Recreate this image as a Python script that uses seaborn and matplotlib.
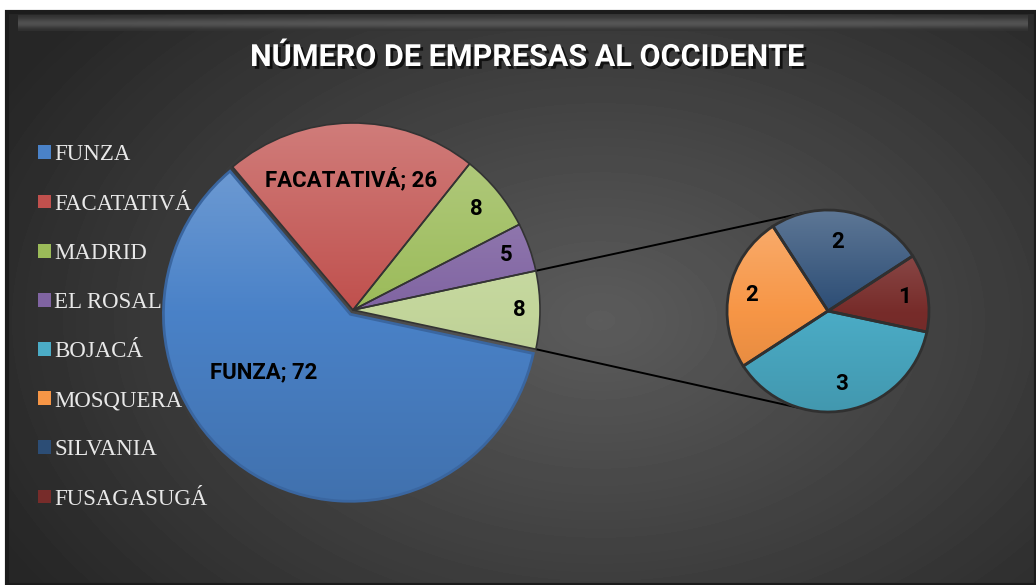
import numpy as np
import matplotlib.pyplot as plt
import matplotlib.patheffects as pe
import seaborn as sns
from matplotlib.colors import LinearSegmentedColormap, to_rgb
from matplotlib.patches import Rectangle

sns.set_style("white")
plt.rcParams["font.family"] = ["Roboto", "DejaVu Sans"]

title = "NÚMERO DE EMPRESAS AL OCCIDENTE"

# main pie
main_labels = ["FUNZA", "FACATATIVÁ", "MADRID", "EL ROSAL"]
main_values = [72, 26, 8, 5]
main_colors = ["#4a82c8", "#c0504d", "#9bbb59", "#8064a2"]

# second pie (the grouped "other" slice of the main pie)
sub_labels = ["BOJACÁ", "MOSQUERA", "SILVANIA", "FUSAGASUGÁ"]
sub_values = [3, 2, 2, 1]
sub_colors = ["#4bacc6", "#f79646", "#2c4d75", "#772c2a"]
other_color = "#c3d69b"

# layout (pixel based, y up)
W, H = 1036, 585
main_c, main_r = (353, 275), 187
sub_c, sub_r = (828, 274), 101


def shade(ax, wedge, color, c, r):
    # vertical gradient inside a wedge, lighter at the top
    base = np.array(to_rgb(color))
    light = base + (1 - base) * 0.28
    dark = base * 0.86
    cmap = LinearSegmentedColormap.from_list("g", [dark, base, light])
    grad = np.linspace(0, 1, 256).reshape(-1, 1)
    im = ax.imshow(grad, cmap=cmap, origin="lower", aspect="auto",
                   extent=[c[0] - r - 20, c[0] + r + 20, c[1] - r - 20, c[1] + r + 20],
                   zorder=1.5, interpolation="bicubic")
    im.set_clip_path(wedge)


fig = plt.figure(figsize=(W / 100, H / 100), dpi=100, facecolor="white")
ax = fig.add_axes([0, 0, 1, 1])

# background of the chart area
yy, xx = np.mgrid[12:585, 7:1036]
d = np.sqrt(((xx - 600) / 620.0) ** 2 + ((yy - 320) / 420.0) ** 2)
bg = np.clip(0.36 - 0.19 * d, 0.15, 0.4)
ax.imshow(bg, cmap="gray", vmin=0, vmax=1, extent=[7, W, 0, H - 12],
          aspect="auto", zorder=0)
band = np.array([0.22, 0.26, 0.33, 0.38, 0.40, 0.34, 0.26, 0.20]).reshape(-1, 1)
ax.imshow(band, cmap="gray", vmin=0, vmax=1, extent=[18, W - 8, H - 31, H - 15],
          aspect="auto", zorder=0.2, interpolation="bicubic", alpha=0.7)
ax.add_patch(Rectangle((7, 0), W - 7, H - 12, fill=False, ec="#1c1c1c", lw=3, zorder=0.3))

# main pie
vals = main_values + [sum(sub_values)]
start = -sum(sub_values) / sum(vals) * 360 / 2
wedges_main, _ = ax.pie(vals, colors=main_colors + [other_color], startangle=start,
                        counterclock=False, center=main_c, radius=main_r,
                        wedgeprops=dict(edgecolor="#333333", linewidth=1.2))
# FUNZA slightly pulled out
w0 = wedges_main[0]
tm = np.deg2rad((w0.theta1 + w0.theta2) / 2)
w0.set_center((main_c[0] + 5 * np.cos(tm), main_c[1] + 5 * np.sin(tm)))
for w, col in zip(wedges_main, main_colors + [other_color]):
    w.set_facecolor("none")
    w.set_zorder(2)
    shade(ax, w, col, main_c, main_r)
w0.set_edgecolor("#3a66a0")
w0.set_linewidth(2)

# secondary pie
wedges_sub, _ = ax.pie(sub_values, colors=sub_colors, startangle=-12,
                       counterclock=False, center=sub_c, radius=sub_r,
                       wedgeprops=dict(edgecolor="#303030", linewidth=2))
for w, col in zip(wedges_sub, sub_colors):
    w.set_facecolor("none")
    w.set_zorder(2)
    shade(ax, w, col, sub_c, sub_r)

# connector lines
wo = wedges_main[-1]
for a_main, a_sub in [(wo.theta2, 102), (wo.theta1, -106)]:
    p = np.deg2rad(a_main)
    q = np.deg2rad(a_sub)
    ax.plot([main_c[0] + main_r * np.cos(p), sub_c[0] + sub_r * np.cos(q)],
            [main_c[1] + main_r * np.sin(p), sub_c[1] + sub_r * np.sin(q)],
            color="black", lw=1.4, zorder=1)

# data labels
main_text = [f"{main_labels[0]}; {main_values[0]}", f"{main_labels[1]}; {main_values[1]}",
             str(main_values[2]), str(main_values[3]), str(sum(sub_values))]
main_pos = [(0.58, -24), (0.70, 0), (0.85, 0), (0.87, 0), (0.89, 0)]
for w, t, (dist, dth) in zip(wedges_main, main_text, main_pos):
    a = np.deg2rad((w.theta1 + w.theta2) / 2 + dth)
    ax.text(main_c[0] + main_r * dist * np.cos(a), main_c[1] + main_r * dist * np.sin(a),
            t, ha="center", va="center", fontsize=16, fontweight="bold",
            color="black", zorder=3)
sub_pos = [(0.74, 0), (0.77, 0), (0.69, 4), (0.77, 0)]
for w, v, (dist, dth) in zip(wedges_sub, sub_values, sub_pos):
    a = np.deg2rad((w.theta1 + w.theta2) / 2 + dth)
    ax.text(sub_c[0] + sub_r * dist * np.cos(a), sub_c[1] + sub_r * dist * np.sin(a),
            str(v), ha="center", va="center", fontsize=16, fontweight="bold",
            color="black", zorder=3)

# legend
handles = [Rectangle((0, 0), 1, 1, fc=c, ec="none") for c in main_colors + sub_colors]
leg = ax.legend(handles, main_labels + sub_labels, loc="center left",
                bbox_to_anchor=(38, H - 327), bbox_transform=ax.transData,
                frameon=False, borderaxespad=0, borderpad=0,
                handlelength=0.55, handleheight=0.55, handletextpad=0.15,
                labelspacing=1.23, labelcolor="#e8e8e8",
                prop={"family": ["Liberation Serif", "DejaVu Serif"], "size": 16.5})

# title
fig.text(0.508, 1 - 57 / H, title, ha="center", va="center", color="white",
         fontsize=22, fontweight="bold",
         family=["Roboto", "DejaVu Sans"],
         path_effects=[pe.withSimplePatchShadow(offset=(2, -2), shadow_rgbFace="black", alpha=0.7)])

ax.set_xlim(0, W)
ax.set_ylim(0, H)
ax.set_aspect("equal")
ax.axis("off")

fig.savefig("out.png", dpi=100, facecolor="white")
